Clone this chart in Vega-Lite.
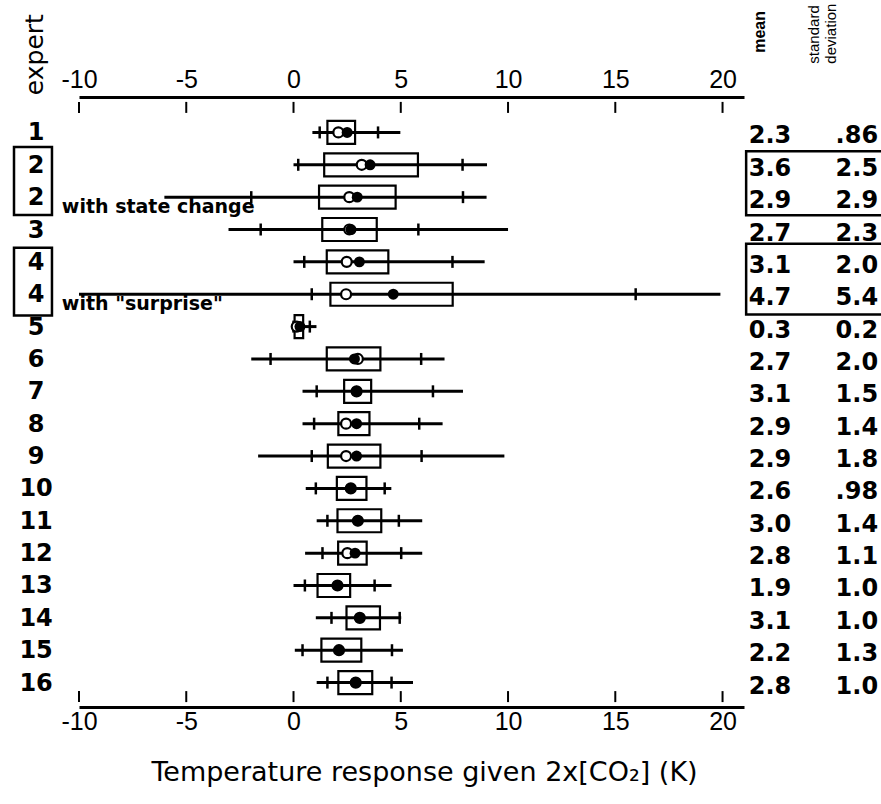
{
  "$schema": "https://vega.github.io/schema/vega-lite/v6.json",
  "width": 665,
  "height": 610,
  "autosize": {"type": "none"},
  "padding": {"left": 79, "top": 97, "right": 137, "bottom": 97},
  "background": "white",
  "config": {"view": {"stroke": null}, "text": {"font": "DejaVu Sans", "color": "black"}},
  "datasets": {
    "rows": [
      {"k":"1","i":1,"lo":0.88,"p5":1.22,"q1":1.58,"med":2.09,"mean":2.5,"q3":2.87,"p95":3.94,"hi":4.98,"m":"2.3","sd":".86"},
      {"k":"2","i":2,"lo":0,"p5":0.22,"q1":1.43,"med":3.18,"mean":3.57,"q3":5.8,"p95":7.88,"hi":9.02,"m":"3.6","sd":"2.5"},
      {"k":"2","i":3,"lo":-6.02,"p5":-1.97,"q1":1.19,"med":2.6,"mean":2.97,"q3":4.76,"p95":7.9,"hi":9.0,"m":"2.9","sd":"2.9"},
      {"k":"3","i":4,"lo":-3.03,"p5":-1.53,"q1":1.34,"med":2.6,"mean":2.68,"q3":3.88,"p95":5.82,"hi":10.0,"m":"2.7","sd":"2.3"},
      {"k":"4","i":5,"lo":0,"p5":0.5,"q1":1.55,"med":2.48,"mean":3.07,"q3":4.42,"p95":7.41,"hi":8.91,"m":"3.1","sd":"2.0"},
      {"k":"4","i":6,"lo":-10,"p5":0.85,"q1":1.72,"med":2.45,"mean":4.65,"q3":7.42,"p95":15.95,"hi":19.9,"m":"4.7","sd":"5.4"},
      {"k":"5","i":7,"lo":0,"p5":0,"q1":0.05,"med":0.15,"mean":0.3,"q3":0.45,"p95":0.76,"hi":1.07,"m":"0.3","sd":"0.2"},
      {"k":"6","i":8,"lo":-1.97,"p5":-1.07,"q1":1.55,"med":3.0,"mean":2.84,"q3":4.05,"p95":5.95,"hi":7.04,"m":"2.7","sd":"2.0"},
      {"k":"7","i":9,"lo":0.42,"p5":1.08,"q1":2.36,"med":2.94,"mean":2.94,"q3":3.62,"p95":6.5,"hi":7.9,"m":"3.1","sd":"1.5"},
      {"k":"8","i":10,"lo":0.42,"p5":0.96,"q1":2.09,"med":2.45,"mean":2.94,"q3":3.54,"p95":5.86,"hi":6.95,"m":"2.9","sd":"1.4"},
      {"k":"9","i":11,"lo":-1.65,"p5":0.85,"q1":1.6,"med":2.45,"mean":2.94,"q3":4.05,"p95":5.97,"hi":9.83,"m":"2.9","sd":"1.8"},
      {"k":"10","i":12,"lo":0.57,"p5":1.04,"q1":2.02,"med":2.67,"mean":2.67,"q3":3.4,"p95":4.25,"hi":4.56,"m":"2.6","sd":".98"},
      {"k":"11","i":13,"lo":1.08,"p5":1.58,"q1":2.05,"med":3.0,"mean":3.0,"q3":4.09,"p95":4.91,"hi":6.0,"m":"3.0","sd":"1.4"},
      {"k":"12","i":14,"lo":0.54,"p5":1.35,"q1":2.08,"med":2.51,"mean":2.87,"q3":3.41,"p95":5.02,"hi":6.0,"m":"2.8","sd":"1.1"},
      {"k":"13","i":15,"lo":0,"p5":0.53,"q1":1.12,"med":2.05,"mean":2.05,"q3":2.64,"p95":3.78,"hi":4.57,"m":"1.9","sd":"1.0"},
      {"k":"14","i":16,"lo":1.04,"p5":1.77,"q1":2.47,"med":3.09,"mean":3.09,"q3":4.03,"p95":4.95,"hi":5.02,"m":"3.1","sd":"1.0"},
      {"k":"15","i":17,"lo":0.06,"p5":0.42,"q1":1.3,"med":2.12,"mean":2.12,"q3":3.16,"p95":4.59,"hi":5.1,"m":"2.2","sd":"1.3"},
      {"k":"16","i":18,"lo":1.08,"p5":1.58,"q1":2.09,"med":2.9,"mean":2.9,"q3":3.67,"p95":4.57,"hi":5.57,"m":"2.8","sd":"1.0"}
    ],
    "frames": [
      {"x1":-13.03,"x2":-11.26,"y1":1.45,"y2":3.55},
      {"x1":-13.03,"x2":-11.26,"y1":4.56,"y2":6.66},
      {"x1":21.1,"x2":28.5,"y1":1.58,"y2":3.56},
      {"x1":21.1,"x2":28.5,"y1":4.44,"y2":6.63}
    ],
    "axt": [{"v":-10},{"v":-5},{"v":0},{"v":5},{"v":10},{"v":15},{"v":20}]
  },
  "data": {"name": "rows"},
  "resolve": {"axis": {"x": "independent", "y": "independent"}},
  "layer": [
    {
      "mark": {"type": "rule", "color": "black", "strokeWidth": 3},
      "encoding": {
        "x": {"field": "lo", "type": "quantitative", "scale": {"domain": [-10, 21], "nice": false, "zero": false},
          "axis": {"orient": "top", "values": [-10, -5, 0, 5, 10, 15, 20], "title": null, "grid": false, "domainWidth": 3, "domainColor": "black", "ticks": false, "labelPadding": 5, "labelFontSize": 25, "labelColor": "black", "labelFont": "Liberation Sans Narrow, Liberation Sans", "labelFlush": false, "labelExpr": "datum.value < 0 ? '-' + abs(datum.value) : '' + datum.value"}},
        "x2": {"field": "hi"},
        "y": {"field": "i", "type": "quantitative", "scale": {"domain": [0.06, 18.6], "reverse": true, "nice": false, "zero": false}, "axis": null}
      }
    },
    {
      "mark": {"type": "bar", "height": 23, "stroke": "black", "strokeWidth": 2.2, "fill": "white", "fillOpacity": 0},
      "encoding": {
        "x": {"field": "q1", "type": "quantitative", "scale": {"domain": [-10, 21], "nice": false, "zero": false},
          "axis": {"orient": "bottom", "values": [-10, -5, 0, 5, 10, 15, 20], "grid": false, "domainWidth": 3, "domainColor": "black", "ticks": false, "labelPadding": 2, "labelFontSize": 25, "labelColor": "black", "labelFont": "Liberation Sans Narrow, Liberation Sans", "labelFlush": false, "labelExpr": "datum.value < 0 ? '-' + abs(datum.value) : '' + datum.value",
            "title": "Temperature response given 2x[CO₂] (K)", "titleFont": "DejaVu Sans", "titleFontSize": 27, "titleFontWeight": "normal", "titleColor": "black", "titlePadding": 25, "titleX": 345}},
        "x2": {"field": "q3"},
        "y": {"field": "i", "type": "quantitative", "scale": {"domain": [0.06, 18.6], "reverse": true, "nice": false, "zero": false}, "axis": null}
      }
    },
    {
      "data": {"name": "axt"},
      "mark": {"type": "point", "shape": "M0,-1L0,1", "size": 121, "filled": false, "stroke": "black", "strokeWidth": 2, "opacity": 1},
      "encoding": {
        "x": {"field": "v", "type": "quantitative", "scale": {"domain": [-10, 21], "nice": false, "zero": false}, "axis": null},
        "y": {"datum": 0.227, "type": "quantitative", "scale": {"domain": [0.06, 18.6], "reverse": true, "nice": false, "zero": false}, "axis": null}
      }
    },
    {
      "data": {"name": "axt"},
      "mark": {"type": "point", "shape": "M0,-1L0,1", "size": 121, "filled": false, "stroke": "black", "strokeWidth": 2, "opacity": 1},
      "encoding": {
        "x": {"field": "v", "type": "quantitative", "scale": {"domain": [-10, 21], "nice": false, "zero": false}, "axis": null},
        "y": {"datum": 18.433, "type": "quantitative", "scale": {"domain": [0.06, 18.6], "reverse": true, "nice": false, "zero": false}, "axis": null}
      }
    },
    {
      "mark": {"type": "point", "shape": "M0,-1L0,1", "size": 144, "filled": false, "stroke": "black", "strokeWidth": 2.5, "opacity": 1},
      "encoding": {
        "x": {"field": "p5", "type": "quantitative", "scale": {"domain": [-10, 21], "nice": false, "zero": false}, "axis": null},
        "y": {"field": "i", "type": "quantitative", "scale": {"domain": [0.06, 18.6], "reverse": true, "nice": false, "zero": false}, "axis": null}
      }
    },
    {
      "mark": {"type": "point", "shape": "M0,-1L0,1", "size": 144, "filled": false, "stroke": "black", "strokeWidth": 2.5, "opacity": 1},
      "encoding": {
        "x": {"field": "p95", "type": "quantitative", "scale": {"domain": [-10, 21], "nice": false, "zero": false}, "axis": null},
        "y": {"field": "i", "type": "quantitative", "scale": {"domain": [0.06, 18.6], "reverse": true, "nice": false, "zero": false}, "axis": null}
      }
    },
    {
      "mark": {"type": "point", "shape": "circle", "size": 100, "filled": true, "fill": "white", "stroke": "black", "strokeWidth": 2.2, "opacity": 1},
      "encoding": {
        "x": {"field": "med", "type": "quantitative", "scale": {"domain": [-10, 21], "nice": false, "zero": false}, "axis": null},
        "y": {"field": "i", "type": "quantitative", "scale": {"domain": [0.06, 18.6], "reverse": true, "nice": false, "zero": false}, "axis": null}
      }
    },
    {
      "mark": {"type": "point", "shape": "circle", "size": 120, "filled": true, "color": "black", "opacity": 1},
      "encoding": {
        "x": {"field": "mean", "type": "quantitative", "scale": {"domain": [-10, 21], "nice": false, "zero": false}, "axis": null},
        "y": {"field": "i", "type": "quantitative", "scale": {"domain": [0.06, 18.6], "reverse": true, "nice": false, "zero": false}, "axis": null}
      }
    },
    {
      "mark": {"type": "text", "fontSize": 24, "fontWeight": "bold", "align": "center", "baseline": "middle", "dy": 1},
      "encoding": {
        "x": {"datum": -12.0, "type": "quantitative", "scale": {"domain": [-10, 21], "nice": false, "zero": false}, "axis": null},
        "y": {"field": "i", "type": "quantitative", "scale": {"domain": [0.06, 18.6], "reverse": true, "nice": false, "zero": false}, "axis": null},
        "text": {"field": "k"}
      }
    },
    {
      "mark": {"type": "text", "fontSize": 24, "fontWeight": "bold", "align": "center", "baseline": "middle", "dy": 4},
      "encoding": {
        "x": {"datum": 22.21, "type": "quantitative", "scale": {"domain": [-10, 21], "nice": false, "zero": false}, "axis": null},
        "y": {"field": "i", "type": "quantitative", "scale": {"domain": [0.06, 18.6], "reverse": true, "nice": false, "zero": false}, "axis": null},
        "text": {"field": "m"}
      }
    },
    {
      "mark": {"type": "text", "fontSize": 24, "fontWeight": "bold", "align": "left", "baseline": "middle", "dy": 4},
      "encoding": {
        "x": {"datum": 25.27, "type": "quantitative", "scale": {"domain": [-10, 21], "nice": false, "zero": false}, "axis": null},
        "y": {"field": "i", "type": "quantitative", "scale": {"domain": [0.06, 18.6], "reverse": true, "nice": false, "zero": false}, "axis": null},
        "text": {"field": "sd"}
      }
    },
    {
      "data": {"name": "frames"},
      "mark": {"type": "rect", "fill": null, "fillOpacity": 0, "stroke": "black", "strokeWidth": 2.5},
      "encoding": {
        "x": {"field": "x1", "type": "quantitative", "scale": {"domain": [-10, 21], "nice": false, "zero": false}, "axis": null},
        "x2": {"field": "x2"},
        "y": {"field": "y1", "type": "quantitative", "scale": {"domain": [0.06, 18.6], "reverse": true, "nice": false, "zero": false}, "axis": null},
        "y2": {"field": "y2"}
      }
    },
    {
      "data": {"values": [{}]},
      "mark": {"type": "text", "text": "with state change", "fontSize": 19, "fontWeight": "bold", "align": "left", "baseline": "middle"},
      "encoding": {
        "x": {"datum": -10.8, "type": "quantitative", "scale": {"domain": [-10, 21], "nice": false, "zero": false}, "axis": null},
        "y": {"datum": 3.3, "type": "quantitative", "scale": {"domain": [0.06, 18.6], "reverse": true, "nice": false, "zero": false}, "axis": null}
      }
    },
    {
      "data": {"values": [{}]},
      "mark": {"type": "text", "text": "with \"surprise\"", "fontSize": 19, "fontWeight": "bold", "align": "left", "baseline": "middle"},
      "encoding": {
        "x": {"datum": -10.8, "type": "quantitative", "scale": {"domain": [-10, 21], "nice": false, "zero": false}, "axis": null},
        "y": {"datum": 6.3, "type": "quantitative", "scale": {"domain": [0.06, 18.6], "reverse": true, "nice": false, "zero": false}, "axis": null}
      }
    },
    {
      "data": {"values": [{}]},
      "mark": {"type": "text", "text": "expert", "fontSize": 25, "angle": 270, "align": "left", "baseline": "middle"},
      "encoding": {
        "x": {"datum": -12.05, "type": "quantitative", "scale": {"domain": [-10, 21], "nice": false, "zero": false}, "axis": null},
        "y": {"datum": -0.15, "type": "quantitative", "scale": {"domain": [0.06, 18.6], "reverse": true, "nice": false, "zero": false}, "axis": null}
      }
    },
    {
      "data": {"values": [{}]},
      "mark": {"type": "text", "text": "mean", "fontSize": 16, "fontWeight": "bold", "font": "Liberation Sans", "angle": 270, "align": "left", "baseline": "middle"},
      "encoding": {
        "x": {"datum": 21.75, "type": "quantitative", "scale": {"domain": [-10, 21], "nice": false, "zero": false}, "axis": null},
        "y": {"datum": -1.46, "type": "quantitative", "scale": {"domain": [0.06, 18.6], "reverse": true, "nice": false, "zero": false}, "axis": null}
      }
    },
    {
      "data": {"values": [{}]},
      "mark": {"type": "text", "text": "standard", "fontSize": 15, "font": "Liberation Sans", "angle": 270, "align": "left", "baseline": "middle"},
      "encoding": {
        "x": {"datum": 24.27, "type": "quantitative", "scale": {"domain": [-10, 21], "nice": false, "zero": false}, "axis": null},
        "y": {"datum": -1.125, "type": "quantitative", "scale": {"domain": [0.06, 18.6], "reverse": true, "nice": false, "zero": false}, "axis": null}
      }
    },
    {
      "data": {"values": [{}]},
      "mark": {"type": "text", "text": "deviation", "fontSize": 15, "font": "Liberation Sans", "angle": 270, "align": "left", "baseline": "middle"},
      "encoding": {
        "x": {"datum": 25.06, "type": "quantitative", "scale": {"domain": [-10, 21], "nice": false, "zero": false}, "axis": null},
        "y": {"datum": -1.125, "type": "quantitative", "scale": {"domain": [0.06, 18.6], "reverse": true, "nice": false, "zero": false}, "axis": null}
      }
    }
  ]
}
